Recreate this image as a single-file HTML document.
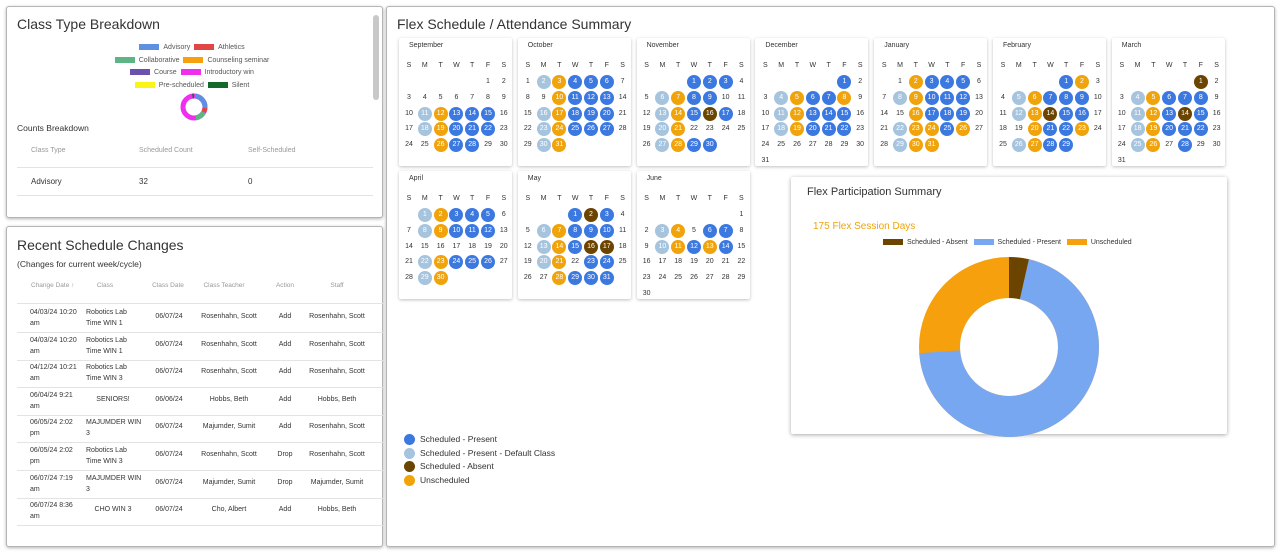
<!DOCTYPE html>
<html><head><meta charset="utf-8"><style>
*{box-sizing:border-box;margin:0;padding:0}
body{width:1280px;height:554px;background:#fff;font-family:"Liberation Sans",sans-serif;color:#333;position:relative;overflow:hidden}
.panel{position:absolute;border:1.5px solid #b5b5b5;border-radius:3px;box-shadow:0 1px 3px rgba(0,0,0,.3);background:#fff}
.abs{position:absolute;white-space:nowrap}
.cal{position:absolute;width:113px;background:#fff;box-shadow:0 1px 3px rgba(0,0,0,.25);border-radius:2px}
.cal .t{position:absolute;left:10px;top:4px;font-size:7px;color:#333}
.cell{position:absolute;width:14px;height:14px;line-height:14px;text-align:center;font-size:7px;color:#333;border-radius:50%}
.B{background:#3b78e0;color:#fff}.L{background:#a7c4de;color:#fff}.O{background:#f0a30a;color:#fff}.D{background:#6b4400;color:#fff}
.lg{display:inline-block;width:20px;height:6px;vertical-align:middle;margin-right:4px}
.tbl{font-size:7px;color:#333}
.hd{font-size:7px;color:#999}
</style></head><body>

<div class="panel" style="left:6px;top:6px;width:377px;height:212px">
  <div class="abs" style="left:10px;top:9px;font-size:14px;color:#333">Class Type Breakdown</div>
  <div class="abs" style="left:366px;top:8px;width:6px;height:85px;background:#c8c8c8;border-radius:3px"></div>
  <div class="abs" style="left:0;top:35px;width:370px;text-align:center;font-size:7px;color:#555;line-height:12.5px">
    <div><span class="lg" style="background:#5f8fe0"></span>Advisory &nbsp;<span class="lg" style="background:#e04646"></span>Athletics</div>
    <div><span class="lg" style="background:#5db585"></span>Collaborative &nbsp;<span class="lg" style="background:#f5a00c"></span>Counseling seminar</div>
    <div><span class="lg" style="background:#6a4fb0"></span>Course &nbsp;<span class="lg" style="background:#ef2ef0"></span>Introductory win</div>
    <div><span class="lg" style="background:#fbf417"></span>Pre-scheduled &nbsp;<span class="lg" style="background:#12692a"></span>Silent</div>
  </div>
  <svg class="abs" style="left:172px;top:85px" width="30" height="30" viewBox="-15 -15 30 30">
    <circle r="11" fill="none" stroke="#ef2ef0" stroke-width="5"/>
    <circle r="11" fill="none" stroke="#5f8fe0" stroke-width="5" stroke-dasharray="17 100" transform="rotate(-85)"/>
    <circle r="11" fill="none" stroke="#e04646" stroke-width="5" stroke-dasharray="4 100" transform="rotate(5)"/>
    <circle r="11" fill="none" stroke="#5db585" stroke-width="5" stroke-dasharray="10 100" transform="rotate(28)"/>
    <circle r="11" fill="none" stroke="#12692a" stroke-width="5" stroke-dasharray="1.5 100" transform="rotate(-98)"/>
  </svg>
  <div class="abs" style="left:10px;top:116px;font-size:8.5px">Counts Breakdown</div>
  <div class="abs hd" style="left:24px;top:140px">Class Type</div>
  <div class="abs hd" style="left:132px;top:140px">Scheduled Count</div>
  <div class="abs hd" style="left:241px;top:140px">Self-Scheduled</div>
  <div class="abs" style="left:10px;top:160px;width:356px;border-top:1px solid #e3e3e3"></div>
  <div class="abs tbl" style="left:24px;top:170px;font-size:8px">Advisory</div>
  <div class="abs tbl" style="left:132px;top:170px;font-size:8px">32</div>
  <div class="abs tbl" style="left:241px;top:170px;font-size:8px">0</div>
  <div class="abs" style="left:10px;top:188px;width:356px;border-top:1px solid #e3e3e3"></div>
</div>

<div class="panel" style="left:6px;top:226px;width:377px;height:321px">
  <div class="abs" style="left:10px;top:10px;font-size:14px">Recent Schedule Changes</div>
  <div class="abs" style="left:10px;top:32px;font-size:8.5px">(Changes for current week/cycle)</div>
  <div id="rs"></div>
</div>

<div class="panel" style="left:386px;top:6px;width:889px;height:541px">
  <div class="abs" style="left:10px;top:9px;font-size:14px">Flex Schedule / Attendance Summary</div>
</div>

<div id="cals"></div>

<div class="abs" style="left:791px;top:177px;width:436px;height:257px;background:#fff;box-shadow:0 1px 4px rgba(0,0,0,.35);border-radius:2px">
  <div class="abs" style="left:16px;top:9px;font-size:11px">Flex Participation Summary</div>
  <div class="abs" style="left:22px;top:44px;font-size:10px;color:#f0a30a">175 Flex Session Days</div>
  <div class="abs" style="left:92px;top:62px;font-size:7px;color:#333">
    <span class="lg" style="background:#6b4400;width:20px;height:6px"></span>Scheduled - Absent &nbsp;
    <span class="lg" style="background:#78a7f2;width:20px;height:6px"></span>Scheduled - Present &nbsp;
    <span class="lg" style="background:#f5a00c;width:20px;height:6px"></span>Unscheduled
  </div>
  <svg class="abs" style="left:118px;top:70px" width="200" height="200" viewBox="-100 -100 200 200">
    <g transform="rotate(-90)">
      <circle r="69.5" fill="none" stroke="#f5a00c" stroke-width="41"/>
      <circle r="69.5" fill="none" stroke="#78a7f2" stroke-width="41" stroke-dasharray="307 1000" stroke-dashoffset="-15.5"/>
      <circle r="69.5" fill="none" stroke="#6b4400" stroke-width="41" stroke-dasharray="15.5 1000"/>
    </g>
  </svg>
</div>

<div class="abs" style="left:404px;top:433px;font-size:8.5px;line-height:13.5px;color:#333">
  <div><span style="display:inline-block;width:11px;height:11px;border-radius:50%;background:#3b78e0;vertical-align:middle;margin-right:5px"></span>Scheduled - Present</div>
  <div><span style="display:inline-block;width:11px;height:11px;border-radius:50%;background:#a7c4de;vertical-align:middle;margin-right:5px"></span>Scheduled - Present - Default Class</div>
  <div><span style="display:inline-block;width:11px;height:11px;border-radius:50%;background:#6b4400;vertical-align:middle;margin-right:5px"></span>Scheduled - Absent</div>
  <div><span style="display:inline-block;width:11px;height:11px;border-radius:50%;background:#f0a30a;vertical-align:middle;margin-right:5px"></span>Unscheduled</div>
</div>

<script>
var months=[
["September",5,30,"11L 12O 13B 14B 15B 18L 19O 20B 21B 22B 26O 27B 28B"],
["October",0,31,"2L 3O 4B 5B 6B 10O 11B 12B 13B 16L 17O 18B 19B 20B 23L 24O 25B 26B 27B 30L 31O"],
["November",3,30,"1B 2B 3B 6L 7O 8B 9B 13L 14O 15B 16D 17B 20L 21O 27L 28O 29B 30B"],
["December",5,31,"1B 4L 5O 6B 7B 8O 11L 12O 13B 14B 15B 18L 19O 20B 21B 22B"],
["January",1,31,"2O 3B 4B 5B 8L 9O 10B 11B 12B 16O 17B 18B 19B 22L 23O 24O 25B 26O 29L 30O 31O"],
["February",4,29,"1B 2O 5L 6O 7B 8B 9B 12L 13O 14D 15B 16B 20O 21B 22B 23O 26L 27O 28B 29B"],
["March",5,31,"1D 4L 5O 6B 7B 8B 11L 12O 13B 14D 15B 18L 19O 20B 21B 22B 25L 26O 28B"],
["April",1,30,"1L 2O 3B 4B 5B 8L 9O 10B 11B 12B 22L 23O 24B 25B 26B 29L 30O"],
["May",3,31,"1B 2D 3B 6L 7O 8B 9B 10B 13L 14O 15B 16D 17D 20L 21O 23B 24B 28O 29B 30B 31B"],
["June",6,30,"3L 4O 6B 7B 10L 11O 12B 13O 14B"]];
var h="";
months.forEach(function(m,i){
 var x=399+(i%7)*118.8, y=i<7?38:171;
 var st={};m[3].split(" ").forEach(function(s){st[parseInt(s)]=s.slice(-1)});
 h+='<div class="cal" style="left:'+x+'px;top:'+y+'px;height:128px"><div class="t">'+m[0]+'</div>';
 "SMTWTFS".split("").forEach(function(c,j){h+='<div class="cell" style="left:'+(3+j*15.8)+'px;top:21px">'+c+'</div>'});
 for(var d=1;d<=m[2];d++){var p=m[1]+d-1,c=p%7,r=Math.floor(p/7);
  h+='<div class="cell '+(st[d]||"")+'" style="left:'+(3+c*15.8)+'px;top:'+(37+r*15.8)+'px">'+d+'</div>';}
 h+='</div>';
});
document.getElementById("cals").innerHTML=h;
var rows=[["04/03/24 10:20","am","Robotics Lab","Time WIN 1","06/07/24","Rosenhahn, Scott","Add","Rosenhahn, Scott"],
["04/03/24 10:20","am","Robotics Lab","Time WIN 1","06/07/24","Rosenhahn, Scott","Add","Rosenhahn, Scott"],
["04/12/24 10:21","am","Robotics Lab","Time WIN 3","06/07/24","Rosenhahn, Scott","Add","Rosenhahn, Scott"],
["06/04/24 9:21","am","SENIORS!","","06/06/24","Hobbs, Beth","Add","Hobbs, Beth"],
["06/05/24 2:02","pm","MAJUMDER WIN","3","06/07/24","Majumder, Sumit","Add","Rosenhahn, Scott"],
["06/05/24 2:02","pm","Robotics Lab","Time WIN 3","06/07/24","Rosenhahn, Scott","Drop","Rosenhahn, Scott"],
["06/07/24 7:19","am","MAJUMDER WIN","3","06/07/24","Majumder, Sumit","Drop","Majumder, Sumit"],
["06/07/24 8:36","am","CHO WIN 3","","06/07/24","Cho, Albert","Add","Hobbs, Beth"]];
var s='';
[["Change Date \u2191",22],["Class",96],["Class Date",159],["Class Teacher",215],["Action",276],["Staff",328]].forEach(function(a){s+='<div class="abs hd" style="left:'+(a[1]+2)+'px;top:55px;font-size:6.5px'+(a[1]>90?';transform:translateX(-50%);left:'+(a[1]+2)+'px':'')+'">'+a[0]+'</div>'});
s+='<div class="abs" style="left:10px;top:76px;width:366px;border-top:1px solid #e3e3e3"></div>';
rows.forEach(function(r,i){var y=78+i*27.6;
 s+='<div class="abs tbl" style="left:23px;top:'+(y+2)+'px;line-height:11px;font-size:7px">'+r[0]+'<br>'+r[1]+'</div>';
 if(r[3]) s+='<div class="abs tbl" style="left:79px;top:'+(y+2)+'px;line-height:11px;font-size:7px">'+r[2]+'<br>'+r[3]+'</div>';
 else s+='<div class="abs tbl" style="left:106px;transform:translateX(-50%);top:'+(y+8)+'px;font-size:7px">'+r[2]+'</div>';
 [[r[4],162],[r[5],222],[r[6],278],[r[7],330]].forEach(function(c){s+='<div class="abs tbl" style="left:'+c[1]+'px;transform:translateX(-50%);top:'+(y+8)+'px;font-size:7px">'+c[0]+'</div>'});
 s+='<div class="abs" style="left:10px;top:'+(y+27)+'px;width:366px;border-top:1px solid #e3e3e3"></div>';
});
document.getElementById("rs").innerHTML=s;
</script>
</body></html>
